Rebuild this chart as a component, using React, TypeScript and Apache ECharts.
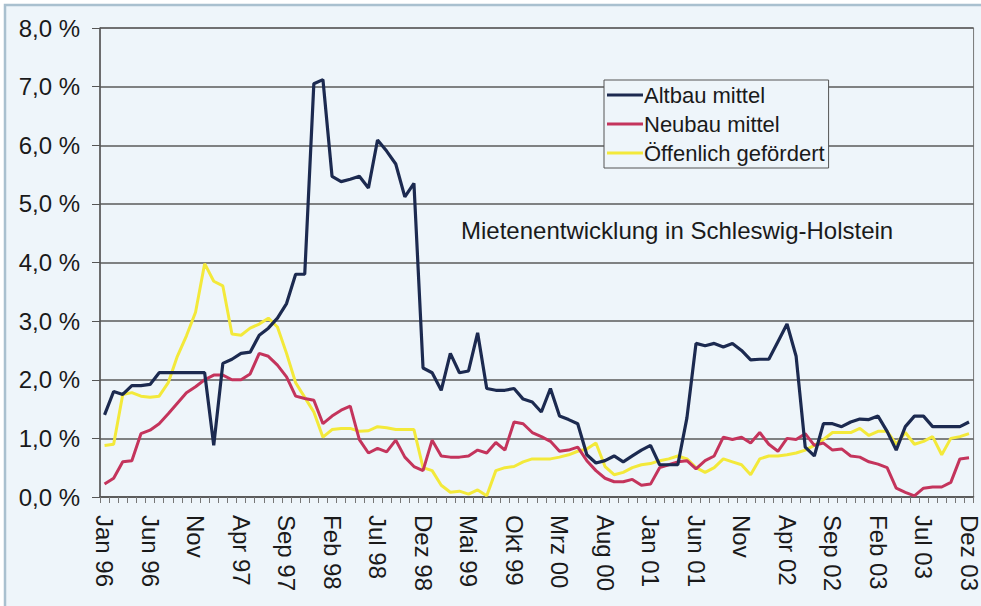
import React, { useEffect, useRef } from "react";
import * as echarts from "echarts";

const MONTHS = ["Jan", "Feb", "Mrz", "Apr", "Mai", "Jun", "Jul", "Aug", "Sep", "Okt", "Nov", "Dez"];
const YEARS = ["96", "97", "98", "99", "00", "01", "02", "03"];
const CATEGORIES: string[] = [];
YEARS.forEach((y) => MONTHS.forEach((m) => CATEGORIES.push(m + " " + y)));

const TICK_LABELS = [
  "Jan 96", "Jun 96", "Nov", "Apr 97", "Sep 97", "Feb 98", "Jul 98", "Dez 98", "Mai 99", "Okt 99",
  "Mrz 00", "Aug 00", "Jan 01", "Jun 01", "Nov", "Apr 02", "Sep 02", "Feb 03", "Jul 03", "Dez 03",
];

const ALTBAU = [
  1.4, 1.8, 1.75, 1.9, 1.9, 1.92, 2.12, 2.12, 2.12, 2.12, 2.12, 2.12, 0.88, 2.28, 2.35, 2.45,
  2.47, 2.76, 2.88, 3.05, 3.3, 3.8, 3.8, 7.05, 7.12, 5.47, 5.38, 5.42, 5.47, 5.27, 6.09, 5.9,
  5.68, 5.12, 5.35, 2.2, 2.12, 1.82, 2.45, 2.12, 2.15, 2.8, 1.85, 1.82, 1.82, 1.85, 1.67, 1.62,
  1.45, 1.85, 1.38, 1.32, 1.25, 0.72, 0.58, 0.62, 0.7, 0.6, 0.7, 0.8, 0.88, 0.55, 0.55, 0.55,
  1.35, 2.62, 2.58, 2.62, 2.56, 2.62, 2.5, 2.34, 2.35, 2.35, 2.65, 2.95, 2.4, 0.85, 0.7, 1.25,
  1.25, 1.2, 1.28, 1.33, 1.32, 1.38, 1.12, 0.8, 1.2, 1.38, 1.38, 1.2, 1.2, 1.2, 1.2, 1.28,
];

const NEUBAU = [
  0.22, 0.32, 0.6, 0.62, 1.08, 1.14, 1.25, 1.42, 1.6, 1.78, 1.88, 2.0, 2.08, 2.08, 2.0, 2.0,
  2.1, 2.45, 2.4, 2.25, 2.05, 1.72, 1.68, 1.65, 1.25, 1.38, 1.48, 1.55, 0.98, 0.75, 0.83, 0.77,
  0.97, 0.68, 0.52, 0.45, 0.97, 0.7, 0.68, 0.68, 0.7, 0.8, 0.75, 0.93, 0.8, 1.28, 1.25, 1.1,
  1.03, 0.95, 0.78, 0.8, 0.85, 0.62, 0.45, 0.32, 0.26, 0.26, 0.3, 0.2, 0.22, 0.5, 0.55, 0.6,
  0.62, 0.48, 0.62, 0.7, 1.02, 0.98, 1.02, 0.92, 1.1, 0.9, 0.78, 1.0, 0.98, 1.08, 0.88, 0.92,
  0.8, 0.82, 0.7, 0.68, 0.6, 0.56, 0.5, 0.15, 0.08, 0.02, 0.15, 0.17, 0.17, 0.25, 0.65, 0.67,
];

const OEFFENTLICH = [
  0.88, 0.9, 1.75, 1.78, 1.72, 1.7, 1.72, 1.95, 2.4, 2.75, 3.15, 3.98, 3.68, 3.6, 2.78, 2.76,
  2.88, 2.95, 3.05, 2.9, 2.45, 1.95, 1.7, 1.45, 1.02, 1.15, 1.17, 1.17, 1.12, 1.13, 1.2, 1.18,
  1.15, 1.15, 1.15, 0.5, 0.45, 0.2, 0.08, 0.1, 0.05, 0.12, 0.02, 0.45, 0.5, 0.52, 0.6, 0.65,
  0.65, 0.65, 0.68, 0.72, 0.78, 0.82, 0.92, 0.52, 0.38, 0.42, 0.5, 0.55, 0.57, 0.62, 0.65, 0.7,
  0.65, 0.5, 0.42, 0.5, 0.65, 0.6, 0.55, 0.38, 0.65, 0.7, 0.7, 0.72, 0.75, 0.8, 0.88, 0.98,
  1.1, 1.1, 1.1, 1.17, 1.05, 1.12, 1.12, 0.9, 1.1, 0.9, 0.95, 1.03, 0.72, 1.0, 1.03, 1.08,
];

const SERIES_NAMES = ["Altbau mittel", "Neubau mittel", "Öffenlich gefördert"];
const TITLE = "Mietenentwicklung in Schleswig-Holstein";

const FONT = "'Liberation Sans', Arial, sans-serif";

export default function App() {
  const ref = useRef<HTMLDivElement>(null);
  useEffect(() => {
    if (!ref.current) return;
    const chart = echarts.init(ref.current, null, { renderer: "svg" });
    chart.setOption({
      animation: false,
      backgroundColor: "#ffffff",
      graphic: [
        {
          type: "rect",
          shape: { x: 5, y: 5, width: 1000, height: 640 },
          style: { fill: "#eef5fa", stroke: "#a9c0cf", lineWidth: 2.5 },
          z: -10,
          silent: true,
        },
      ],
      title: {
        text: TITLE,
        left: 461,
        top: 218,
        padding: 0,
        textStyle: { fontFamily: FONT, fontSize: 24, fontWeight: "normal", color: "#1a1a1a" },
      },
      legend: {
        data: SERIES_NAMES,
        orient: "vertical",
        left: 604,
        top: 80,
        padding: [4, 4, 4, 3],
        itemGap: 7,
        itemWidth: 36,
        itemHeight: 3,
        icon: "rect",
        borderColor: "#555",
        borderWidth: 1,
        backgroundColor: "#eef5fa",
        textStyle: { fontFamily: FONT, fontSize: 22, color: "#1a1a1a", padding: [0, 0, 0, -4], lineHeight: 22 },
      },
      grid: {
        left: 100,
        right: 5,
        top: 28,
        bottom: 109,
        show: true,
        borderColor: "#777",
        borderWidth: 1,
        backgroundColor: "transparent",
      },
      xAxis: {
        type: "category",
        data: CATEGORIES,
        boundaryGap: true,
        axisLine: { lineStyle: { color: "#555", width: 1.5 } },
        axisTick: { show: true, interval: 0, length: 6, lineStyle: { color: "#777" } },
        axisLabel: {
          interval: 4,
          rotate: -90,
          margin: 18,
          fontFamily: FONT,
          fontSize: 24,
          color: "#1a1a1a",
          formatter: (_v: string, idx: number) => TICK_LABELS[Math.round(idx / 5)] ?? "",
        },
        splitLine: { show: false },
      },
      yAxis: {
        type: "value",
        min: 0,
        max: 8,
        interval: 1,
        axisLine: { show: true, lineStyle: { color: "#555", width: 1.5 } },
        axisTick: { show: true, length: 8, lineStyle: { color: "#555" } },
        axisLabel: {
          margin: 20,
          fontFamily: FONT,
          fontSize: 24,
          color: "#1a1a1a",
          formatter: (v: number) => v.toFixed(1).replace(".", ",") + " %",
        },
        splitLine: { show: true, lineStyle: { color: "#5a5a5a", width: 1.5 } },
      },
      series: [
        {
          name: SERIES_NAMES[2],
          type: "line",
          data: OEFFENTLICH,
          symbol: "none",
          lineStyle: { color: "#f3e93a", width: 3 },
          itemStyle: { color: "#f3e93a" },
          z: 2,
        },
        {
          name: SERIES_NAMES[1],
          type: "line",
          data: NEUBAU,
          symbol: "none",
          lineStyle: { color: "#c4345c", width: 3 },
          itemStyle: { color: "#c4345c" },
          z: 3,
        },
        {
          name: SERIES_NAMES[0],
          type: "line",
          data: ALTBAU,
          symbol: "none",
          lineStyle: { color: "#1c2a50", width: 3.2 },
          itemStyle: { color: "#1c2a50" },
          z: 4,
        },
      ],
    });
    return () => chart.dispose();
  }, []);
  return (
    <div
      ref={ref}
      style={{ position: "fixed", left: 0, top: 0, width: 981, height: 606 }}
    />
  );
}
